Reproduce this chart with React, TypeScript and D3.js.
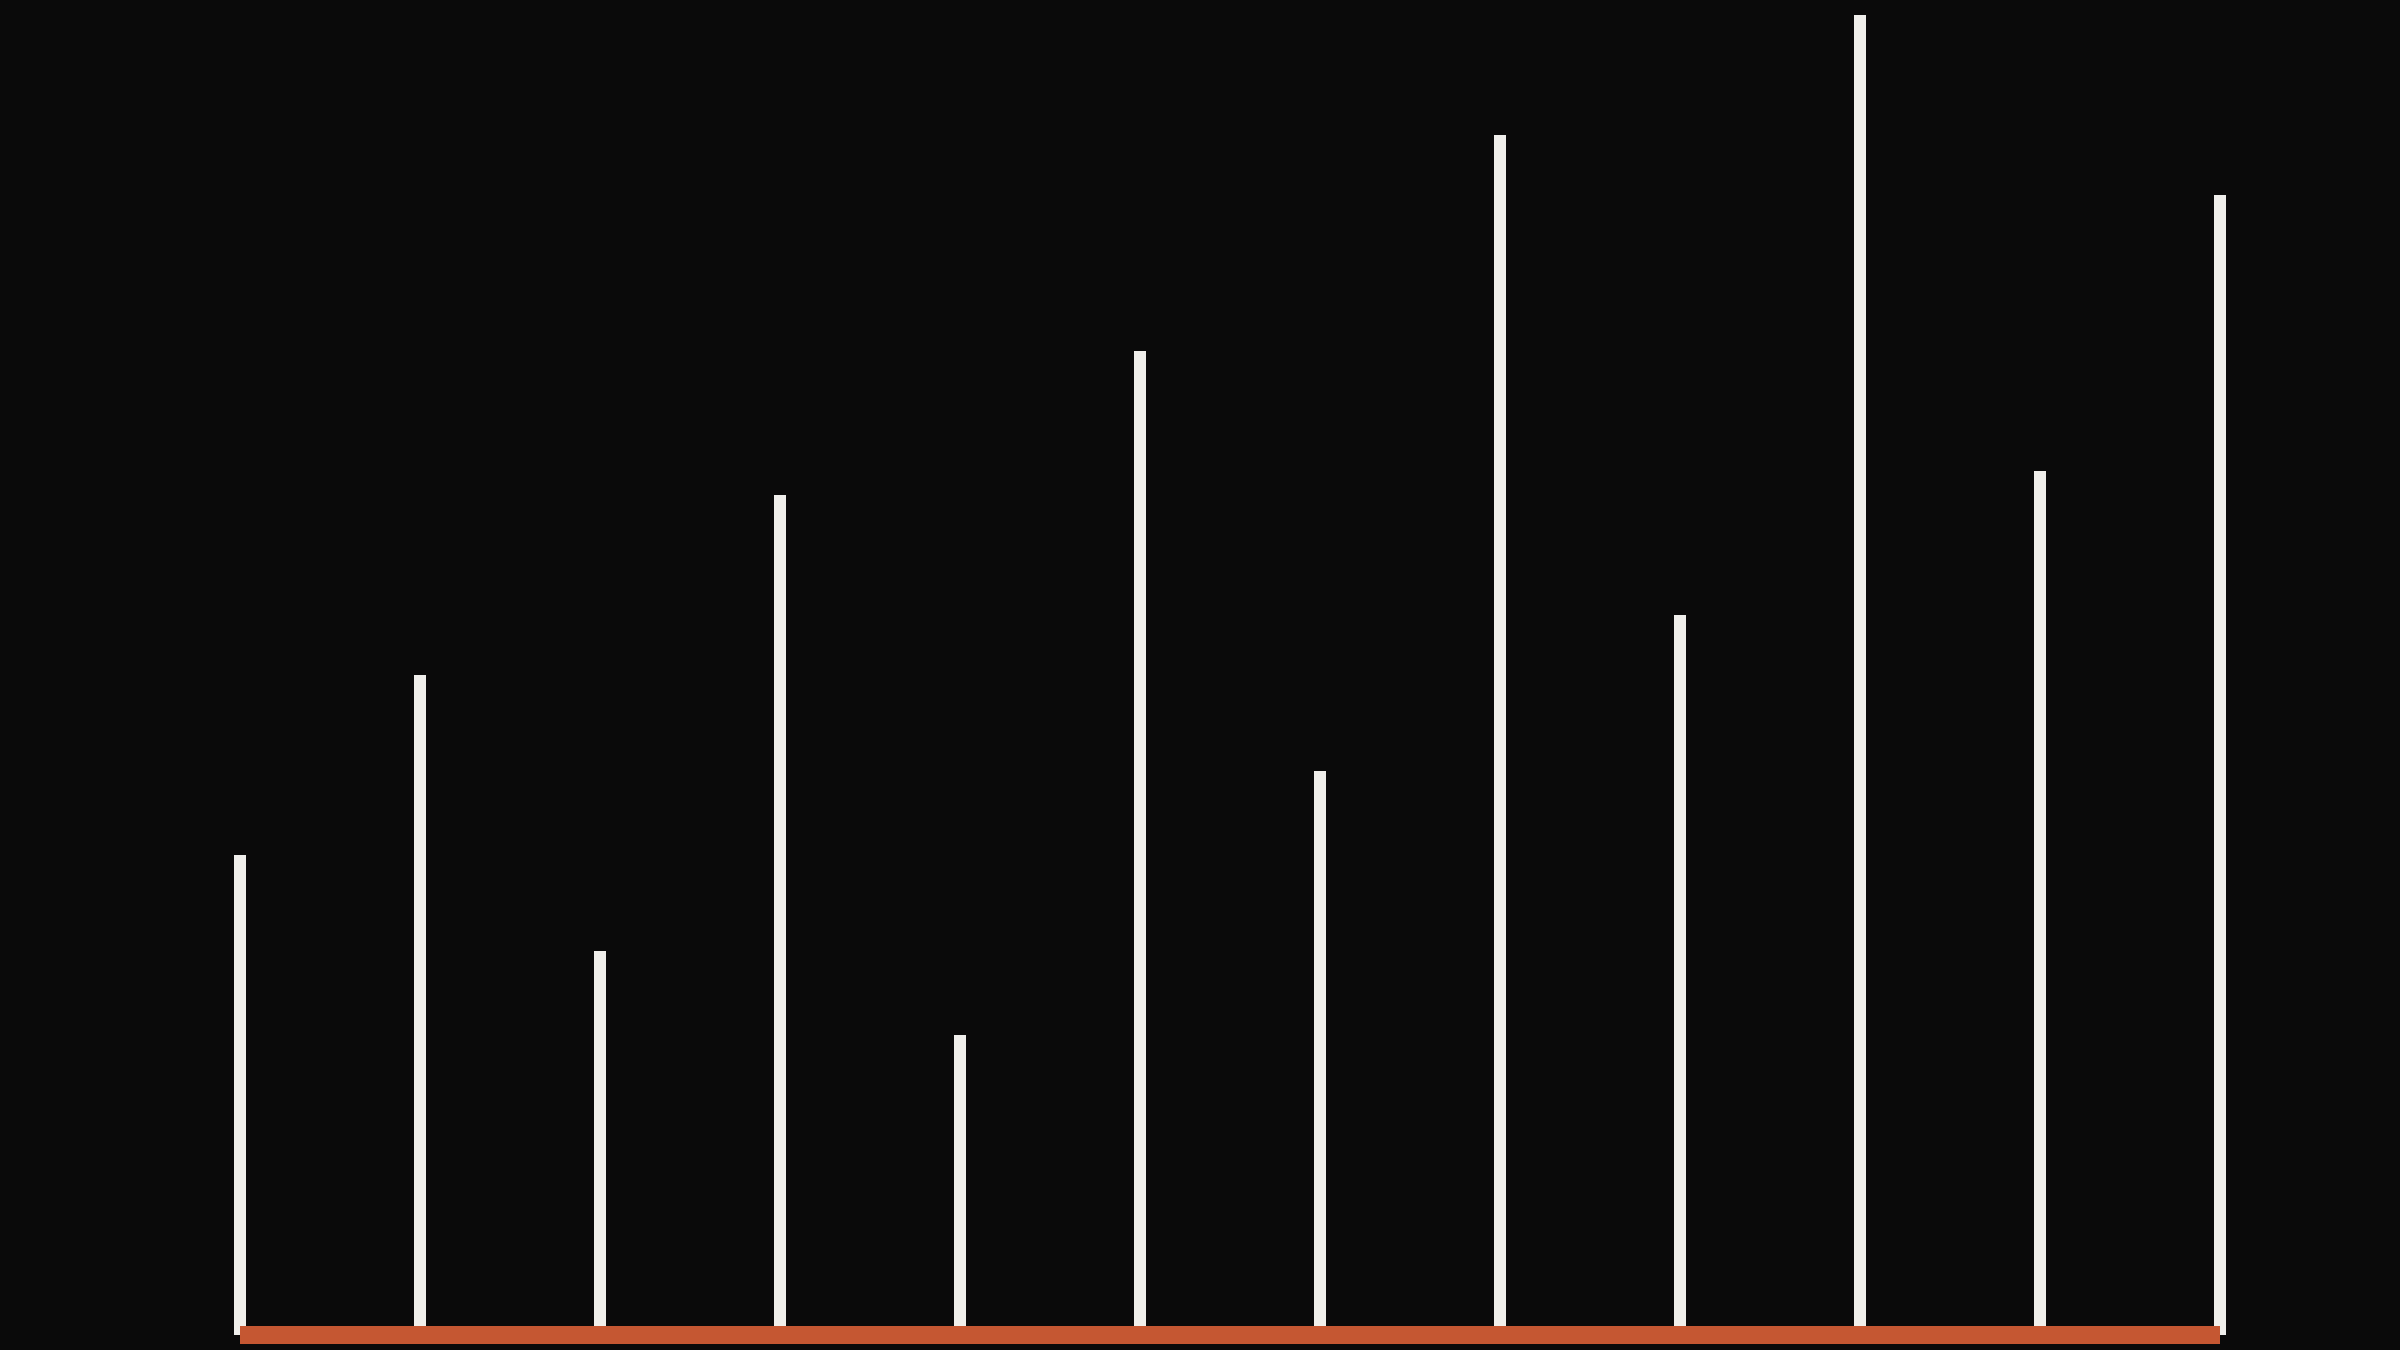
import React from "react";
import * as d3 from "d3";

const categories = ["Jan", "Feb", "Mar", "Apr", "May", "Jun", "Jul", "Aug", "Sep", "Oct", "Nov", "Dec"];
const values = [40, 55, 32, 70, 25, 82, 47, 100, 60, 110, 72, 95];

const W = 2400;
const H = 1350;
const BG = "#0a0a0a";
const STEM = "#f0efeb";
const BASE = "#c55732";

export default function App() {
  const x = d3.scalePoint<string>().domain(categories).range([240, 2220]);
  const y = d3.scaleLinear().domain([0, d3.max(values) as number]).range([1335, 15]);
  const baseline = y(0);
  const [x0, x1] = x.range();

  return (
    <svg
      width={W}
      height={H}
      viewBox={`0 0 ${W} ${H}`}
      style={{ position: "fixed", left: 0, top: 0, display: "block", background: BG }}
    >
      <rect x={0} y={0} width={W} height={H} fill={BG} />
      <g>
        {categories.map((c, i) => (
          <line
            key={c}
            x1={x(c)}
            x2={x(c)}
            y1={baseline}
            y2={y(values[i])}
            stroke={STEM}
            strokeWidth={12}
            strokeLinecap="butt"
          />
        ))}
      </g>
      <line x1={x0} x2={x1} y1={baseline} y2={baseline} stroke={BASE} strokeWidth={18} strokeLinecap="butt" />
    </svg>
  );
}
